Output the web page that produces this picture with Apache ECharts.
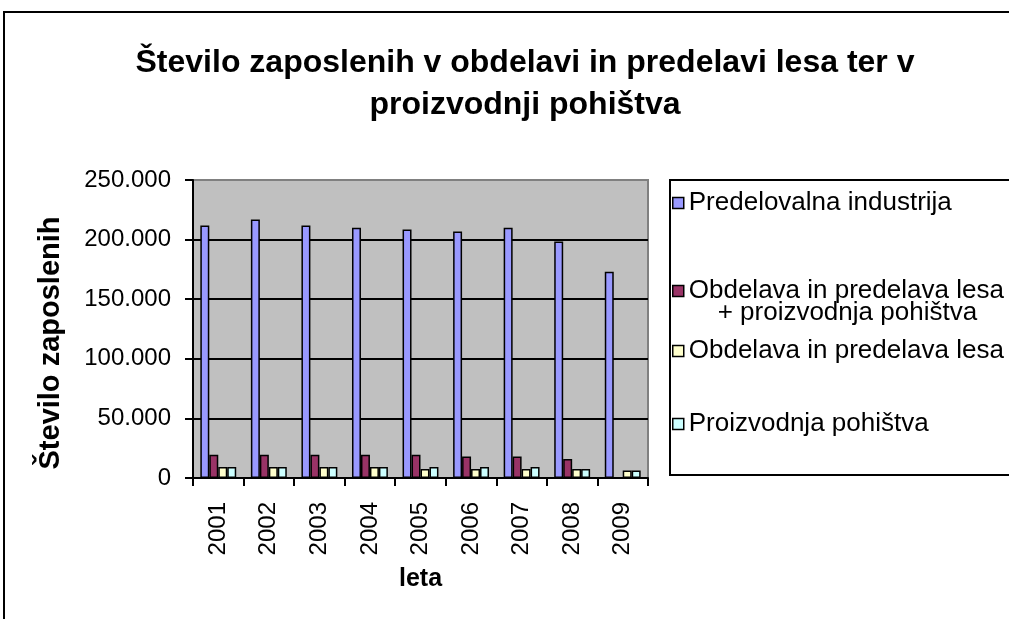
<!DOCTYPE html>
<html>
<head>
<meta charset="utf-8">
<script src="https://cdn.jsdelivr.net/npm/echarts@6/dist/echarts.min.js"></script>
<style>
html,body{margin:0;padding:0;background:#fff;}
#chart{width:1009px;height:619px;}
</style>
</head>
<body>
<div id="chart"></div>
<script>
const years = ['2001','2002','2003','2004','2005','2006','2007','2008','2009'];
const seriesNames = [
  'Predelovalna industrija',
  'Obdelava in predelava lesa\n+ proizvodnja pohištva',
  'Obdelava in predelava lesa',
  'Proizvodnja pohištva'
];
const predelovalna = [211900, 216900, 211900, 209900, 208500, 206800, 209900, 198400, 173100];
const lesInPohistvo = [19600, 19600, 19600, 19600, 19600, 18000, 18000, 16000, null];
const lesa = [9300, 9300, 9300, 9300, 7600, 7600, 7600, 7600, 6200];
const pohistvo = [9300, 9300, 9300, 9300, 9300, 9300, 9300, 7600, 6200];
const yTicks = [0, 50000, 100000, 150000, 200000, 250000];

const FONT = '"Liberation Sans", Arial, sans-serif';
const colors = ['#9999FF', '#993366', '#FFFFCC', '#CCFFFF'];
const dataSets = [predelovalna, lesInPohistvo, lesa, pohistvo];

function fmt(v) {
  return String(v).replace(/\B(?=(\d{3})+(?!\d))/g, '.');
}

const legendTops = [190, 278, 338, 411];

const chart = echarts.init(document.getElementById('chart'), null, {renderer: 'canvas'});
chart.setOption({
  backgroundColor: '#ffffff',
  animation: false,
  color: colors,
  title: {
    text: 'Število zaposlenih v obdelavi in predelavi lesa ter v\nproizvodnji pohištva',
    left: 520,
    top: 37,
    textAlign: 'center',
    textStyle: {fontFamily: FONT, fontSize: 32, fontWeight: 'bold', color: '#000', lineHeight: 42}
  },
  graphic: [
    {type: 'rect', z: -10, silent: true, shape: {x: 4, y: 12, width: 1100, height: 700},
     style: {fill: null, stroke: '#000', lineWidth: 2}},
    {type: 'rect', z: -5, silent: true, shape: {x: 670, y: 180, width: 400, height: 295},
     style: {fill: '#fff', stroke: '#000', lineWidth: 2}}
  ],
  legend: seriesNames.map((n, i) => ({
    data: [n],
    orient: 'vertical',
    left: 672,
    top: legendTops[i],
    padding: 0,
    itemWidth: 11,
    itemHeight: i === 1 ? 44 : 11,
    icon: i === 1 ? 'path://M0,0L0,0M0,5.5L11,5.5L11,16.5L0,16.5ZM0,44L0,44' : 'rect',
    itemStyle: {borderColor: '#000', borderWidth: 1.5},
    formatter: name => name.replace('\n', '\n    '),
    textStyle: {fontFamily: FONT, fontSize: 26, color: '#000', lineHeight: i === 1 ? 22 : 26}
  })),
  grid: {
    left: 193, top: 180, width: 455, height: 298,
    show: true, backgroundColor: '#C0C0C0', borderColor: '#808080', borderWidth: 2
  },
  xAxis: {
    type: 'category',
    data: years,
    name: 'leta',
    nameLocation: 'middle',
    nameGap: 89,
    nameTextStyle: {fontFamily: FONT, fontSize: 25, fontWeight: 'bold', color: '#000'},
    axisLine: {lineStyle: {color: '#000', width: 2}},
    axisTick: {show: true, alignWithLabel: false, length: 8, lineStyle: {color: '#000', width: 2}},
    axisLabel: {rotate: 90, margin: 24, fontFamily: FONT, fontSize: 24, color: '#000'},
    splitLine: {show: false}
  },
  yAxis: {
    type: 'value',
    min: yTicks[0],
    max: yTicks[yTicks.length - 1],
    interval: yTicks[1] - yTicks[0],
    name: 'Število zaposlenih',
    nameLocation: 'middle',
    nameGap: 128,
    nameTextStyle: {fontFamily: FONT, fontSize: 29, fontWeight: 'bold', color: '#000', padding: [0, 28, 0, 0]},
    axisLine: {show: true, lineStyle: {color: '#000', width: 2}},
    axisTick: {show: true, length: 8, lineStyle: {color: '#000', width: 2}},
    axisLabel: {margin: 22, fontFamily: FONT, fontSize: 24, color: '#000', formatter: v => fmt(v)},
    splitLine: {show: true, lineStyle: {color: ['#000', '#000', '#000', '#000', '#000', '#808080'], width: 2}}
  },
  series: seriesNames.map((n, i) => ({
    name: n,
    type: 'bar',
    data: dataSets[i],
    barGap: '0%',
    barCategoryGap: '29%',
    itemStyle: {color: colors[i], borderColor: '#000', borderWidth: 1.5}
  }))
});
</script>
</body>
</html>
